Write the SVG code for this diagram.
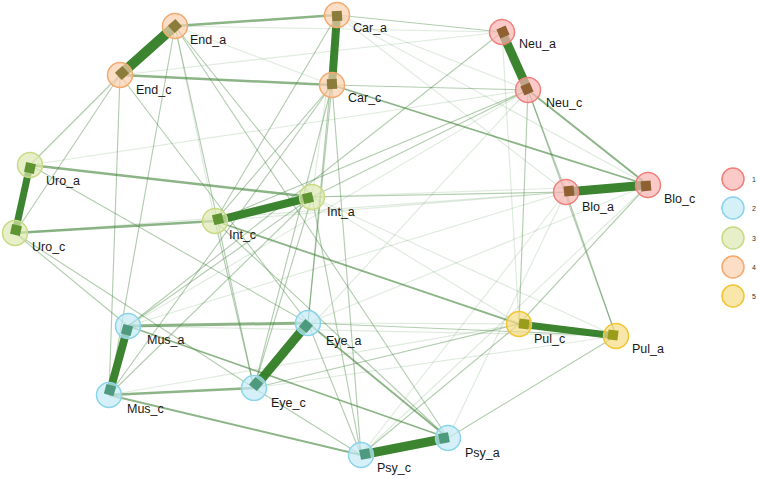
<svg xmlns="http://www.w3.org/2000/svg" width="758" height="479" viewBox="0 0 758 479">
<style>
.s{stroke:#2d7b20;stroke-opacity:0.93;fill:none}
.m{stroke:#3f8237;stroke-opacity:0.6;fill:none}
.l{stroke:#3f8237;stroke-opacity:0.4;stroke-width:1.15;fill:none}
.f{stroke:#3f8237;stroke-opacity:0.16;stroke-width:1.2;fill:none}
.lbl{font-family:"Liberation Sans",Arial,sans-serif;font-size:12.5px;fill:#1a1a1a}
.leg{font-family:"Liberation Sans",Arial,sans-serif;font-size:7px;fill:#333}
.c1{fill:#f8b3b0;fill-opacity:0.7;stroke:#f0807c;stroke-width:1.5}
.c2{fill:#c3e9f5;fill-opacity:0.7;stroke:#8ad4ec;stroke-width:1.5}
.c3{fill:#dde8b2;fill-opacity:0.7;stroke:#c8da84;stroke-width:1.5}
.c4{fill:#fbceac;fill-opacity:0.7;stroke:#f4a96e;stroke-width:1.5}
.c5{fill:#f6dc84;fill-opacity:0.7;stroke:#f1c533;stroke-width:1.5}
.q1{fill:#8e6032}
.q2{fill:#4d9a7e}
.q3{fill:#5e9431}
.q4{fill:#8c7c3c}
.q5{fill:#9a9c1c}
</style>
<rect width="758" height="479" fill="#ffffff"/>
<g id="connectors">
<line class="f" x1="175" y1="26" x2="502" y2="32"/>
<line class="f" x1="337" y1="15" x2="528" y2="90"/>
<line class="f" x1="337" y1="15" x2="566" y2="192"/>
<line class="f" x1="337" y1="15" x2="648" y2="185"/>
<line class="f" x1="312" y1="197" x2="519" y2="324"/>
<line class="f" x1="312" y1="197" x2="616" y2="336"/>
<line class="f" x1="312" y1="197" x2="648" y2="185"/>
<line class="f" x1="215" y1="221" x2="566" y2="192"/>
<line class="f" x1="30" y1="165" x2="528" y2="90"/>
<line class="f" x1="128" y1="326" x2="616" y2="336"/>
<line class="f" x1="254" y1="388" x2="616" y2="336"/>
<line class="f" x1="308" y1="323" x2="648" y2="185"/>
<line class="f" x1="502" y1="32" x2="519" y2="324"/>
<line class="f" x1="566" y1="192" x2="361" y2="455"/>
<line class="f" x1="175" y1="26" x2="215" y2="221"/>
<line class="f" x1="15" y1="233" x2="566" y2="192"/>
<line class="f" x1="128" y1="326" x2="566" y2="192"/>
<line class="f" x1="109" y1="395" x2="519" y2="324"/>
<line class="f" x1="120" y1="75" x2="502" y2="32"/>
<line class="f" x1="308" y1="323" x2="519" y2="324"/>
<line class="f" x1="128" y1="326" x2="528" y2="90"/>
<line class="f" x1="254" y1="388" x2="528" y2="90"/>
<line class="f" x1="337" y1="15" x2="312" y2="197"/>
<line class="f" x1="175" y1="26" x2="332" y2="85"/>
<line class="f" x1="448" y1="438" x2="566" y2="192"/>
<line class="f" x1="361" y1="455" x2="648" y2="185"/>
<line class="l" x1="337" y1="15" x2="502" y2="32"/>
<line class="l" x1="332" y1="85" x2="528" y2="90"/>
<line class="l" x1="175" y1="26" x2="312" y2="197"/>
<line class="l" x1="175" y1="26" x2="254" y2="388"/>
<line class="l" x1="175" y1="26" x2="448" y2="438"/>
<line class="l" x1="120" y1="75" x2="30" y2="165"/>
<line class="l" x1="120" y1="75" x2="15" y2="233"/>
<line class="l" x1="120" y1="75" x2="109" y2="395"/>
<line class="l" x1="120" y1="75" x2="308" y2="323"/>
<line class="l" x1="337" y1="15" x2="215" y2="221"/>
<line class="l" x1="337" y1="15" x2="308" y2="323"/>
<line class="l" x1="332" y1="85" x2="215" y2="221"/>
<line class="l" x1="332" y1="85" x2="254" y2="388"/>
<line class="l" x1="332" y1="85" x2="109" y2="395"/>
<line class="l" x1="332" y1="85" x2="361" y2="455"/>
<line class="l" x1="332" y1="85" x2="308" y2="323"/>
<line class="l" x1="502" y1="32" x2="128" y2="326"/>
<line class="l" x1="528" y1="90" x2="566" y2="192"/>
<line class="l" x1="528" y1="90" x2="519" y2="324"/>
<line class="l" x1="528" y1="90" x2="616" y2="336"/>
<line class="l" x1="528" y1="90" x2="312" y2="197"/>
<line class="l" x1="528" y1="90" x2="215" y2="221"/>
<line class="l" x1="566" y1="192" x2="616" y2="336"/>
<line class="l" x1="566" y1="192" x2="312" y2="197"/>
<line class="l" x1="648" y1="185" x2="519" y2="324"/>
<line class="l" x1="15" y1="233" x2="128" y2="326"/>
<line class="l" x1="15" y1="233" x2="254" y2="388"/>
<line class="l" x1="30" y1="165" x2="308" y2="323"/>
<line class="l" x1="312" y1="197" x2="254" y2="388"/>
<line class="l" x1="312" y1="197" x2="109" y2="395"/>
<line class="l" x1="312" y1="197" x2="361" y2="455"/>
<line class="l" x1="215" y1="221" x2="448" y2="438"/>
<line class="l" x1="215" y1="221" x2="254" y2="388"/>
<line class="l" x1="308" y1="323" x2="616" y2="336"/>
<line class="l" x1="254" y1="388" x2="361" y2="455"/>
<line class="l" x1="254" y1="388" x2="519" y2="324"/>
<line class="l" x1="361" y1="455" x2="519" y2="324"/>
<line class="l" x1="448" y1="438" x2="616" y2="336"/>
<line class="l" x1="308" y1="323" x2="361" y2="455"/>
<line class="l" x1="128" y1="326" x2="312" y2="197"/>
<line class="l" x1="109" y1="395" x2="175" y2="26"/>
<line class="m" stroke-width="2.5" x1="175" y1="26" x2="337" y2="15"/>
<line class="m" stroke-width="2.5" x1="120" y1="75" x2="332" y2="85"/>
<line class="m" stroke-width="2.5" x1="30" y1="165" x2="312" y2="197"/>
<line class="m" stroke-width="2.5" x1="15" y1="233" x2="215" y2="221"/>
<line class="m" stroke-width="3" x1="128" y1="326" x2="308" y2="323"/>
<line class="m" stroke-width="2.5" x1="109" y1="395" x2="254" y2="388"/>
<line class="m" stroke-width="2" x1="528" y1="90" x2="648" y2="185"/>
<line class="m" stroke-width="1.8" x1="332" y1="85" x2="648" y2="185"/>
<line class="m" stroke-width="1.8" x1="215" y1="221" x2="519" y2="324"/>
<line class="m" stroke-width="1.8" x1="308" y1="323" x2="448" y2="438"/>
<line class="m" stroke-width="1.8" x1="109" y1="395" x2="361" y2="455"/>
<line class="m" stroke-width="1.6" x1="128" y1="326" x2="448" y2="438"/>
<line class="s" stroke-width="10" x1="175" y1="26" x2="120" y2="75"/>
<line class="s" stroke-width="8" x1="337" y1="15" x2="332" y2="85"/>
<line class="s" stroke-width="9" x1="502" y1="32" x2="528" y2="90"/>
<line class="s" stroke-width="9" x1="566" y1="192" x2="648" y2="185"/>
<line class="s" stroke-width="7" x1="30" y1="165" x2="15" y2="233"/>
<line class="s" stroke-width="8" x1="215" y1="221" x2="312" y2="197"/>
<line class="s" stroke-width="8" x1="128" y1="326" x2="109" y2="395"/>
<line class="s" stroke-width="9" x1="308" y1="323" x2="254" y2="388"/>
<line class="s" stroke-width="7" x1="519" y1="324" x2="616" y2="336"/>
<line class="s" stroke-width="9" x1="361" y1="455" x2="448" y2="438"/>
</g>
<g id="End_a"><circle class="c4" cx="175" cy="26" r="12.5"/><rect class="q4" x="170" y="21" width="10" height="10" transform="rotate(48 175 26)"/><text class="lbl" x="190" y="44">End_a</text></g>
<g id="End_c"><circle class="c4" cx="120" cy="75" r="12.5"/><rect class="q4" x="117" y="68" width="10" height="10" transform="rotate(48 122 73)"/><text class="lbl" x="136" y="94">End_c</text></g>
<g id="Car_a"><circle class="c4" cx="337" cy="15" r="12.5"/><rect class="q4" x="332" y="11" width="10" height="10" transform="rotate(-4 337 16)"/><text class="lbl" x="353" y="32">Car_a</text></g>
<g id="Car_c"><circle class="c4" cx="332" cy="85" r="12.5"/><rect class="q4" x="327" y="79" width="10" height="10" transform="rotate(-4 332 84)"/><text class="lbl" x="348" y="102">Car_c</text></g>
<g id="Neu_a"><circle class="c1" cx="502" cy="32" r="12.5"/><rect class="q1" x="498" y="27" width="10" height="10" transform="rotate(-24 503 32)"/><text class="lbl" x="519" y="48">Neu_a</text></g>
<g id="Neu_c"><circle class="c1" cx="528" cy="90" r="12.5"/><rect class="q1" x="522" y="84" width="10" height="10" transform="rotate(-24 527 89)"/><text class="lbl" x="546" y="107">Neu_c</text></g>
<g id="Blo_a"><circle class="c1" cx="566" cy="192" r="12.5"/><rect class="q1" x="564" y="186" width="10" height="10" transform="rotate(-5 569 191)"/><text class="lbl" x="582" y="211">Blo_a</text></g>
<g id="Blo_c"><circle class="c1" cx="648" cy="185" r="12.5"/><rect class="q1" x="641" y="181" width="10" height="10" transform="rotate(-5 646 186)"/><text class="lbl" x="664" y="203">Blo_c</text></g>
<g id="Uro_a"><circle class="c3" cx="30" cy="165" r="12.5"/><rect class="q3" x="25" y="163" width="10" height="10" transform="rotate(12 30 168)"/><text class="lbl" x="46" y="185">Uro_a</text></g>
<g id="Uro_c"><circle class="c3" cx="15" cy="233" r="12.5"/><rect class="q3" x="11" y="225" width="10" height="10" transform="rotate(12 16 230)"/><text class="lbl" x="32" y="251">Uro_c</text></g>
<g id="Int_c"><circle class="c3" cx="215" cy="221" r="12.5"/><rect class="q3" x="213" y="214" width="10" height="10" transform="rotate(-14 218 219)"/><text class="lbl" x="229" y="239">Int_c</text></g>
<g id="Int_a"><circle class="c3" cx="312" cy="197" r="12.5"/><rect class="q3" x="303" y="193" width="10" height="10" transform="rotate(-14 308 198)"/><text class="lbl" x="327" y="216">Int_a</text></g>
<g id="Mus_a"><circle class="c2" cx="128" cy="326" r="12.5"/><rect class="q2" x="122" y="325" width="10" height="10" transform="rotate(15 127 330)"/><text class="lbl" x="147" y="344">Mus_a</text></g>
<g id="Mus_c"><circle class="c2" cx="109" cy="395" r="12.5"/><rect class="q2" x="105" y="385" width="10" height="10" transform="rotate(15 110 390)"/><text class="lbl" x="127" y="413">Mus_c</text></g>
<g id="Eye_a"><circle class="c2" cx="308" cy="323" r="12.5"/><rect class="q2" x="301" y="321" width="10" height="10" transform="rotate(40 306 326)"/><text class="lbl" x="326" y="345">Eye_a</text></g>
<g id="Eye_c"><circle class="c2" cx="254" cy="388" r="12.5"/><rect class="q2" x="251" y="379" width="10" height="10" transform="rotate(40 256 384)"/><text class="lbl" x="271" y="407">Eye_c</text></g>
<g id="Pul_c"><circle class="c5" cx="519" cy="324" r="12.5"/><rect class="q5" x="519" y="319" width="10" height="10" transform="rotate(7 524 324)"/><text class="lbl" x="534" y="343">Pul_c</text></g>
<g id="Pul_a"><circle class="c5" cx="616" cy="336" r="12.5"/><rect class="q5" x="608" y="330" width="10" height="10" transform="rotate(7 613 335)"/><text class="lbl" x="632" y="353">Pul_a</text></g>
<g id="Psy_c"><circle class="c2" cx="361" cy="455" r="12.5"/><rect class="q2" x="360" y="449" width="10" height="10" transform="rotate(-11 365 454)"/><text class="lbl" x="377" y="472">Psy_c</text></g>
<g id="Psy_a"><circle class="c2" cx="448" cy="438" r="12.5"/><rect class="q2" x="439" y="433" width="10" height="10" transform="rotate(-11 444 438)"/><text class="lbl" x="465" y="457">Psy_a</text></g>
<g id="legend">
<circle class="c1" cx="733" cy="179" r="11"/><text class="leg" x="752" y="182">1</text>
<circle class="c2" cx="733" cy="208" r="11"/><text class="leg" x="752" y="211">2</text>
<circle class="c3" cx="733" cy="238" r="11"/><text class="leg" x="752" y="241">3</text>
<circle class="c4" cx="733" cy="267" r="11"/><text class="leg" x="752" y="270">4</text>
<circle class="c5" cx="733" cy="296" r="11"/><text class="leg" x="752" y="299">5</text>
</g>
</svg>
